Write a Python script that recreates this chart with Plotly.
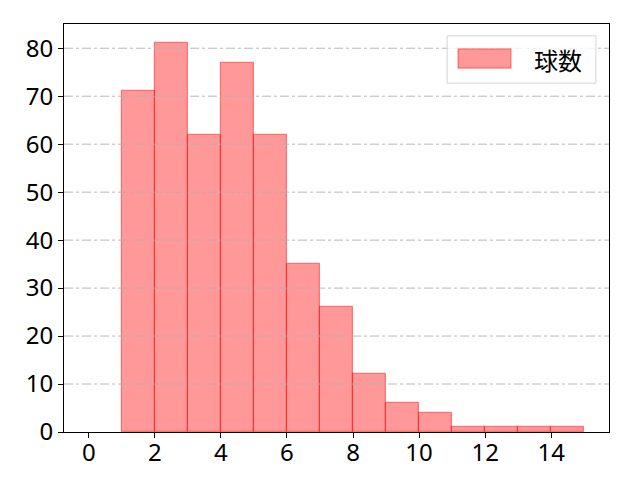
import plotly.graph_objects as go

bin_left = [0, 1, 2, 3, 4, 5, 6, 7, 8, 9, 10, 11, 12, 13, 14]
counts = [0, 71, 81, 62, 77, 62, 35, 26, 12, 6, 4, 1, 1, 1, 1]
bin_width = 1
series_name = "球数"
y_ticks = [0, 10, 20, 30, 40, 50, 60, 70, 80]
x_ticks = [0, 2, 4, 6, 8, 10, 12, 14]

FILL = "rgba(255,0,0,0.4)"
EDGE = "rgba(255,0,0,0.45)"

xs = [b + bin_width / 2 for b, c in zip(bin_left, counts) if c > 0]
ys = [c for c in counts if c > 0]

fig = go.Figure()
fig.add_trace(go.Bar(
    x=xs, y=ys, width=bin_width, name=series_name,
    marker=dict(color=FILL, line=dict(color=EDGE, width=1.2)),
    showlegend=False,
))

for t in y_ticks[1:]:
    fig.add_shape(type="line", xref="paper", x0=0, x1=1, yref="y", y0=t, y1=t,
                  line=dict(color="#b0b0b0", width=0.9, dash="dashdot"), layer="above")

# legend (matplotlib style)
fig.add_shape(type="rect", xref="paper", yref="paper", x0=0.703, x1=0.976, y0=0.855, y1=0.971,
              line=dict(color="#d5d5d5", width=1), fillcolor="rgba(255,255,255,0.8)", layer="above")
fig.add_shape(type="rect", xref="paper", yref="paper", x0=0.723, x1=0.820, y0=0.892, y1=0.939,
              line=dict(color=EDGE, width=1.2), fillcolor=FILL, layer="above")
fig.add_annotation(xref="paper", yref="paper", x=0.907, y=0.914, xanchor="center", yanchor="middle",
                   text=series_name, showarrow=False,
                   font=dict(family="Noto Sans CJK JP", size=24, color="black"))

tickfont = dict(family="Noto Sans", size=24, color="black")

fig.update_layout(
    width=640, height=480,
    margin=dict(l=56, r=39, t=16, b=56),
    plot_bgcolor="white", paper_bgcolor="white",
    font=dict(family="Noto Sans", size=24, color="black"),
    bargap=0,
    xaxis=dict(range=[-0.75, 15.75], tickvals=x_ticks, showgrid=False, zeroline=False,
               showline=True, linecolor="black", linewidth=1, mirror=True, tickfont=tickfont,
               ticks="outside", ticklen=5, tickcolor="black", automargin=False,
               ticklabelstandoff=-6),
    yaxis=dict(range=[0, 85.05], tickvals=y_ticks, showgrid=False, zeroline=False,
               showline=True, linecolor="black", linewidth=1, mirror=True, tickfont=tickfont,
               ticks="outside", ticklen=5, tickcolor="black", automargin=False),
)

fig.write_html("out.html")
